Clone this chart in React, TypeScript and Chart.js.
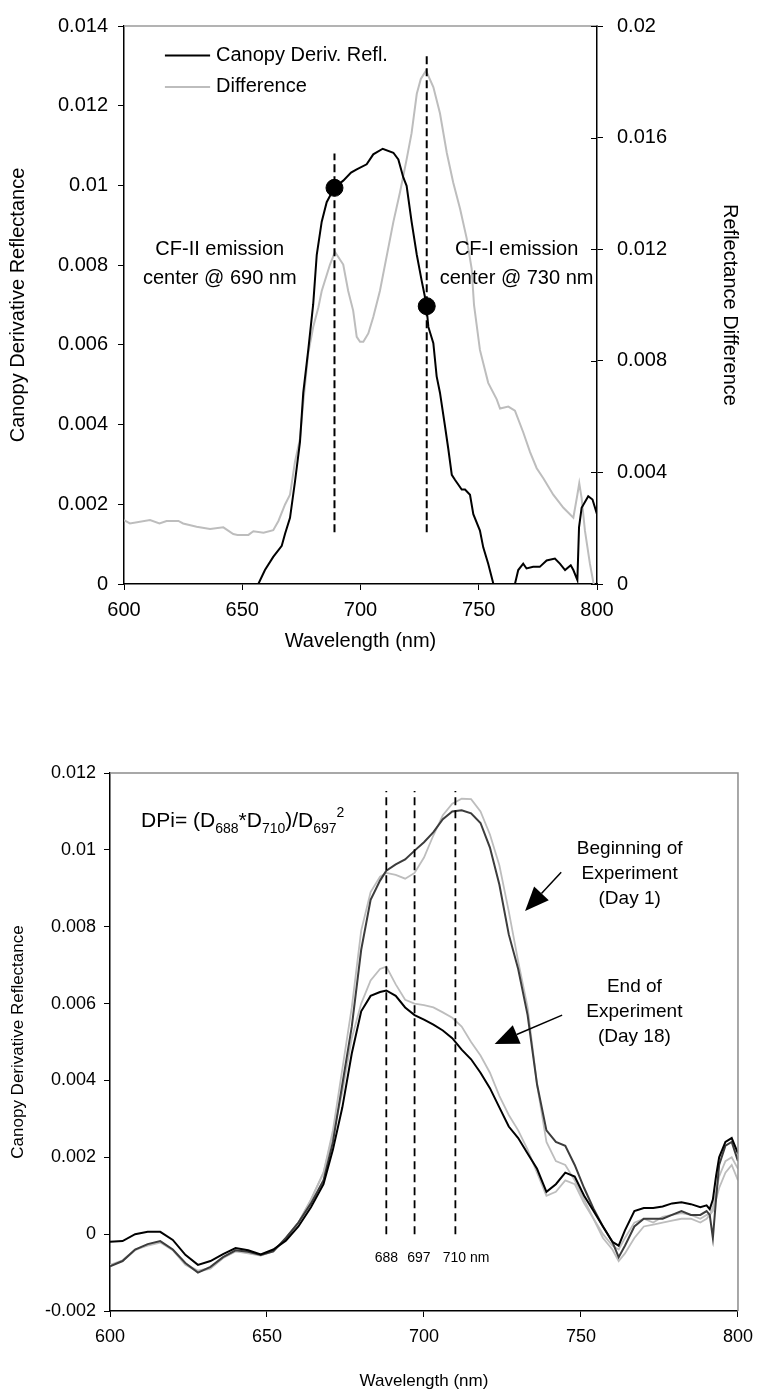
import React, { useEffect, useRef } from "react";
import { Chart, registerables } from "chart.js";

Chart.register(...registerables);

const FONT = "'Liberation Sans', Arial, Helvetica, sans-serif";

// ---------------- Top chart data ----------------
const topXTicks = [600, 650, 700, 750, 800];
const topLeftTicks = [0, 0.002, 0.004, 0.006, 0.008, 0.01, 0.012, 0.014];
const topRightTicks = [0, 0.004, 0.008, 0.012, 0.016, 0.02];

const reflWavelengths = [600, 610, 620, 630, 640, 650, 654, 656.8, 659.6, 663.1, 666.7, 668.1, 670.2, 672.3, 674.4, 675.8, 677.9, 680, 681.5, 683.6, 685.7, 688.9, 692.7, 696, 698.4, 702.6, 705.4, 709.4, 713.9, 716, 718.1, 719.5, 721.6, 723.8, 725.9, 727.7, 728.7, 730.8, 732.2, 733.6, 735.7, 737.1, 738.6, 740, 742.8, 744.2, 746.3, 747.7, 750.5, 751.9, 754, 756.2, 758, 761, 763, 765.3, 766.7, 768.8, 770.2, 773, 775.8, 778.7, 782.2, 784.3, 786.5, 788.9, 790, 791.7, 792.4, 793.5, 796.3, 798.1, 800];
const reflValues = [-0.0005, -0.0004, -0.0008, -0.001, -0.0006, -0.0005, -0.0003, 0, 0.00035, 0.00068, 0.00096, 0.00126, 0.00166, 0.00257, 0.00356, 0.0048, 0.00587, 0.00702, 0.00826, 0.00909, 0.00958, 0.00994, 0.01012, 0.01032, 0.0104, 0.01053, 0.01078, 0.01092, 0.01082, 0.01065, 0.0102, 0.00999, 0.00909, 0.00826, 0.0076, 0.00707, 0.00645, 0.00604, 0.00521, 0.0048, 0.00397, 0.0034, 0.00274, 0.00261, 0.00237, 0.00237, 0.00224, 0.00175, 0.00134, 0.00092, 0.00051, 0, -0.0003, -0.0006, -0.0004, 0, 0.00035, 0.00051, 0.00039, 0.00043, 0.00043, 0.00059, 0.00064, 0.00051, 0.00035, 0.00047, 0.00035, 0.0001, 0.00142, 0.00191, 0.0022, 0.00212, 0.00175];

const diffWavelengths = [600, 602.5, 611, 615, 618, 623, 625, 630.7, 636.4, 642, 646.2, 648, 652.6, 654.7, 659, 663.1, 665.3, 668.1, 670.2, 672.3, 674.4, 675.8, 677.9, 680, 682.2, 683.6, 687.1, 689.2, 692.7, 694.8, 696.9, 698.4, 699.8, 701.2, 703.3, 705.4, 708.2, 713.9, 716.7, 719.5, 721.6, 723.8, 725.5, 727.7, 730.8, 733.6, 736.5, 739.2, 742.1, 744.9, 747, 748, 750.5, 754, 757.6, 759, 762.5, 765.3, 768.8, 771.7, 774.5, 777.3, 781.5, 785.8, 790, 791.7, 792.5, 793.5, 794.9, 797, 798.4, 800];
const diffValues = [0.00229, 0.00217, 0.00229, 0.00217, 0.00226, 0.00226, 0.00217, 0.00205, 0.00197, 0.00203, 0.00179, 0.00176, 0.00176, 0.00189, 0.00184, 0.00193, 0.00226, 0.00285, 0.0032, 0.00438, 0.0052, 0.0065, 0.00827, 0.00921, 0.00992, 0.0105, 0.01145, 0.0119, 0.01145, 0.0105, 0.0098, 0.00886, 0.00868, 0.00868, 0.00898, 0.00957, 0.0105, 0.01298, 0.01404, 0.01522, 0.01616, 0.01757, 0.0181, 0.0184, 0.01781, 0.01687, 0.01545, 0.01439, 0.01345, 0.01239, 0.0113, 0.01, 0.00839, 0.00721, 0.00662, 0.00629, 0.00636, 0.00621, 0.00544, 0.00473, 0.00415, 0.00379, 0.0032, 0.00273, 0.00238, 0.0032, 0.00361, 0.00308, 0.00191, 0.00073, 0.00008, -0.0005];

const emissionCenters = [689, 728];
const emissionDots = [0.00994, 0.00697];
const emissionGuideTops = [0.0108, 0.0133];
const emissionGuideBottom = 0.0013;

const legendLabels = ["Canopy Deriv. Refl.", "Difference"];
const legendColors = ["#000000", "#bdbdbd"];
const legendLineX = [617.3, 636.4];
const legendTextX = 638.9;
const legendRowY = [0.01326, 0.01247];

const emissionNotes = [
  ["CF-II emission", "center @ 690 nm"],
  ["CF-I emission", "center @ 730 nm"],
];
const emissionNoteX = [640.5, 766];
const emissionNoteY = [0.0084, 0.00766];

// ---------------- Bottom chart data ----------------
const botXTicks = [600, 650, 700, 750, 800];
const botYTicks = [-0.002, 0, 0.002, 0.004, 0.006, 0.008, 0.01, 0.012];

const bandWavelengths = [600, 604, 608, 612, 616, 620, 624, 628, 632, 636, 640, 644, 648, 652, 656, 660, 664, 668, 671, 674, 677, 680, 683, 686, 688, 691, 694, 697, 700, 703, 706, 709, 712, 715, 718, 721, 724, 727, 730, 733, 736, 739, 742, 745, 748, 751, 754, 757, 760, 762, 764, 767, 770, 773, 776, 779, 782, 785, 788, 790, 791, 792, 793, 794, 796, 798, 800];
const day1Dark = [-0.00084, -0.0007, -0.0004, -0.00026, -0.00018, -0.0004, -0.00075, -0.001, -0.00085, -0.0006, -0.00042, -0.00046, -0.00054, -0.00045, -0.0001, 0.0003, 0.0008, 0.0014, 0.0024, 0.0039, 0.0054, 0.0074, 0.0087, 0.0092, 0.00946, 0.00962, 0.00975, 0.00998, 0.0102, 0.01046, 0.0108, 0.011, 0.01103, 0.01095, 0.0107, 0.01006, 0.0091, 0.0078, 0.0069, 0.0057, 0.0039, 0.0027, 0.0024, 0.0023, 0.0018, 0.0012, 0.00066, 0.0002, -0.0002, -0.0006, -0.0003, 0.0002, 0.0004, 0.0004, 0.0004, 0.0005, 0.0006, 0.0005, 0.0005, 0.0006, 0.0005, -0.0001, 0.0009, 0.0018, 0.0023, 0.0024, 0.0019];
const day1Light = [-0.0008, -0.00068, -0.0004, -0.0003, -0.00022, -0.00042, -0.0008, -0.00098, -0.0009, -0.00062, -0.00045, -0.0005, -0.00056, -0.00045, -0.00012, 0.0003, 0.0009, 0.0016, 0.0027, 0.0043, 0.0059, 0.0079, 0.0089, 0.0093, 0.0094, 0.00935, 0.00925, 0.0094, 0.0098, 0.01038, 0.0109, 0.0112, 0.01133, 0.01132, 0.011, 0.0104, 0.0096, 0.0084, 0.0071, 0.0059, 0.0039, 0.0024, 0.0019, 0.0018, 0.0014, 0.0009, 0.0004, -0.0001, -0.0004, -0.0007, -0.0005, -0.0001, 0.0002, 0.00025, 0.0003, 0.00035, 0.0004, 0.0004, 0.0003, 0.0004, 0.0005, 0.0006, 0.0009, 0.0012, 0.0016, 0.0018, 0.0014];
const day18Dark = [-0.0002, -0.00018, 0, 0.00006, 0.00006, -0.00015, -0.00054, -0.0008, -0.0007, -0.00052, -0.00036, -0.00042, -0.00053, -0.0004, -0.00017, 0.0002, 0.0007, 0.0013, 0.0022, 0.0033, 0.0047, 0.0058, 0.0062, 0.0063, 0.00634, 0.0062, 0.0059, 0.0057, 0.00558, 0.00545, 0.0053, 0.0051, 0.0048, 0.00455, 0.0042, 0.0038, 0.0033, 0.0028, 0.0025, 0.0021, 0.0017, 0.0011, 0.0013, 0.0016, 0.0015, 0.001, 0.0006, 0.0002, -0.0002, -0.0003, 0.0001, 0.0006, 0.00068, 0.00068, 0.00072, 0.0008, 0.00083, 0.00078, 0.0007, 0.00075, 0.00065, 0.0009, 0.0015, 0.002, 0.0024, 0.0025, 0.0021];
const day18Light = [-0.00082, -0.0007, -0.00042, -0.00028, -0.0002, -0.00041, -0.00078, -0.00095, -0.00088, -0.00062, -0.00044, -0.00048, -0.00055, -0.00044, -0.0001, 0.0003, 0.0009, 0.0016, 0.0026, 0.0037, 0.0051, 0.006, 0.0066, 0.0069, 0.00696, 0.0065, 0.0061, 0.006, 0.00596, 0.0059, 0.00577, 0.00563, 0.0054, 0.005, 0.00465, 0.0042, 0.0036, 0.0031, 0.0027, 0.0022, 0.0016, 0.001, 0.0011, 0.0014, 0.0013, 0.0008, 0.0004, 0, -0.0003, -0.0004, -0.0001, 0.0003, 0.0004, 0.0003, 0.00045, 0.0005, 0.00055, 0.0005, 0.0004, 0.0005, 0.0005, 0.0007, 0.0011, 0.0015, 0.0019, 0.002, 0.0017];

const dpiBands = [688, 697, 710];
const dpiGuideTop = 0.01153;
const dpiGuideBottom = 0;
const bandLabels = ["688", "697", "710 nm"];
const bandLabelX = [688, 698.4, 713.4];
const bandLabelY = -0.00063;

const formulaX = 609.9;
const formulaY = 0.0106;

const stageNotes = [
  ["Beginning of", "Experiment", "(Day 1)"],
  ["End of", "Experiment", "(Day 18)"],
];
const stageNoteX = [765.5, 767];
const stageNoteY = [0.01002, 0.00644];
const arrowFrom = [[743.7, 0.00942], [744, 0.0057]];
const arrowTo = [[732.2, 0.00841], [722.5, 0.00495]];

// ---------------- helpers ----------------
const pts = (xs: number[], ys: number[]) =>
  xs.slice(0, Math.min(xs.length, ys.length)).map((x, i) => ({ x, y: ys[i] }));

const fmt = (v: any) => String(parseFloat(Number(v).toFixed(4)));

const setTicks = (arr: number[]) => (axis: any) => {
  axis.ticks = arr.map((v) => ({ value: v }));
};

function axisBase(size: number, pad: number) {
  return {
    grid: { drawOnChartArea: false, drawTicks: true, tickLength: 6, tickColor: "#000", tickWidth: 1 },
    border: { display: true, color: "#000", width: 1.5 },
    ticks: {
      font: { family: FONT, size },
      color: "#000",
      padding: pad,
      autoSkip: false,
      maxRotation: 0,
      minRotation: 0,
      callback: (v: any) => fmt(v),
    },
  };
}

function drawArrow(ctx: CanvasRenderingContext2D, x0: number, y0: number, x1: number, y1: number) {
  const ang = Math.atan2(y1 - y0, x1 - x0);
  const L = 24;
  const W = 10;
  const bx = x1 - L * Math.cos(ang);
  const by = y1 - L * Math.sin(ang);
  ctx.beginPath();
  ctx.moveTo(x0, y0);
  ctx.lineTo(bx, by);
  ctx.stroke();
  ctx.beginPath();
  ctx.moveTo(x1, y1);
  ctx.lineTo(bx + W * Math.sin(ang), by - W * Math.cos(ang));
  ctx.lineTo(bx - W * Math.sin(ang), by + W * Math.cos(ang));
  ctx.closePath();
  ctx.fill();
}

const topDecor = {
  id: "topDecor",
  afterDatasetsDraw(chart: any) {
    const { ctx, chartArea: a, scales } = chart;
    const x = scales.x;
    const yL = scales.yL;
    const yR = scales.yR;
    ctx.save();
    ctx.strokeStyle = "#9a9a9a";
    ctx.lineWidth = 1.5;
    ctx.beginPath();
    ctx.moveTo(a.left, a.top);
    ctx.lineTo(a.right, a.top);
    ctx.stroke();
    ctx.strokeStyle = "#000";
    ctx.lineWidth = 1;
    topRightTicks.forEach((v) => {
      const py = Math.round(yR.getPixelForValue(v)) + 0.5;
      ctx.beginPath();
      ctx.moveTo(a.right - 6, py);
      ctx.lineTo(a.right, py);
      ctx.stroke();
    });
    ctx.font = `20px ${FONT}`;
    ctx.textAlign = "left";
    ctx.textBaseline = "middle";
    legendLabels.forEach((lab, i) => {
      const py = yL.getPixelForValue(legendRowY[i]);
      ctx.strokeStyle = legendColors[i];
      ctx.lineWidth = 2;
      ctx.beginPath();
      ctx.moveTo(x.getPixelForValue(legendLineX[0]), py);
      ctx.lineTo(x.getPixelForValue(legendLineX[1]), py);
      ctx.stroke();
      ctx.fillStyle = "#000";
      ctx.fillText(lab, x.getPixelForValue(legendTextX), py);
    });
    ctx.textAlign = "center";
    emissionNotes.forEach((lines, i) => {
      lines.forEach((t, j) => {
        ctx.fillText(t, x.getPixelForValue(emissionNoteX[i]), yL.getPixelForValue(emissionNoteY[j]));
      });
    });
    ctx.restore();
  },
};

const bottomDecor = {
  id: "bottomDecor",
  afterDatasetsDraw(chart: any) {
    const { ctx, chartArea: a, scales } = chart;
    const x = scales.x;
    const y = scales.y;
    ctx.save();
    ctx.strokeStyle = "#8c8c8c";
    ctx.lineWidth = 1.5;
    ctx.beginPath();
    ctx.moveTo(a.left, a.top);
    ctx.lineTo(a.right, a.top);
    ctx.lineTo(a.right, a.bottom);
    ctx.stroke();

    ctx.fillStyle = "#000";
    const parts: [string, string][] = [
      ["DPi= (D", "n"],
      ["688", "sub"],
      ["*D", "n"],
      ["710", "sub"],
      [")/D", "n"],
      ["697", "sub"],
      ["2", "sup"],
    ];
    let fx = x.getPixelForValue(formulaX);
    const fy = y.getPixelForValue(formulaY);
    ctx.textAlign = "left";
    ctx.textBaseline = "alphabetic";
    parts.forEach(([t, k]) => {
      ctx.font = k === "n" ? `21px ${FONT}` : `14px ${FONT}`;
      const dy = k === "sub" ? 6 : k === "sup" ? -10 : 0;
      ctx.fillText(t, fx, fy + dy);
      fx += ctx.measureText(t).width;
    });

    ctx.font = `14px ${FONT}`;
    ctx.textAlign = "center";
    ctx.textBaseline = "middle";
    bandLabels.forEach((t, i) => {
      ctx.fillText(t, x.getPixelForValue(bandLabelX[i]), y.getPixelForValue(bandLabelY));
    });

    ctx.font = `19px ${FONT}`;
    stageNotes.forEach((lines, i) => {
      const cx = x.getPixelForValue(stageNoteX[i]);
      const cy = y.getPixelForValue(stageNoteY[i]);
      lines.forEach((t, j) => ctx.fillText(t, cx, cy + j * 25));
    });

    ctx.strokeStyle = "#000";
    ctx.lineWidth = 1.5;
    arrowFrom.forEach((f, i) => {
      drawArrow(
        ctx,
        x.getPixelForValue(f[0]),
        y.getPixelForValue(f[1]),
        x.getPixelForValue(arrowTo[i][0]),
        y.getPixelForValue(arrowTo[i][1])
      );
    });
    ctx.restore();
  },
};

function topConfig(): any {
  const guideSets = emissionCenters.map((c, i) => ({
    label: "guide" + i,
    data: [
      { x: c, y: emissionGuideBottom },
      { x: c, y: emissionGuideTops[i] },
    ],
    yAxisID: "yL",
    borderColor: "#000",
    borderWidth: 2,
    borderDash: [8, 4],
    pointRadius: 0,
    order: 1,
  }));
  return {
    type: "line",
    data: {
      datasets: [
        {
          label: "centers",
          data: pts(emissionCenters, emissionDots),
          yAxisID: "yL",
          showLine: false,
          pointRadius: 8.5,
          pointBackgroundColor: "#000",
          pointBorderColor: "#000",
          order: 0,
        },
        ...guideSets,
        {
          label: legendLabels[0],
          data: pts(reflWavelengths, reflValues),
          yAxisID: "yL",
          borderColor: "#000",
          borderWidth: 2,
          pointRadius: 0,
          order: 2,
        },
        {
          label: legendLabels[1],
          data: pts(diffWavelengths, diffValues),
          yAxisID: "yR",
          borderColor: "#bdbdbd",
          borderWidth: 2,
          pointRadius: 0,
          order: 3,
        },
      ],
    },
    options: {
      responsive: false,
      animation: false,
      events: [],
      layout: { padding: { top: 18, left: 0, right: 0, bottom: 0 } },
      plugins: { legend: { display: false }, tooltip: { enabled: false } },
      scales: {
        x: {
          type: "linear",
          min: 600,
          max: 800,
          ...axisBase(20, 8),
          afterBuildTicks: setTicks(topXTicks),
          afterFit: (s: any) => {
            s.height = 116;
          },
          title: {
            display: true,
            text: "Wavelength (nm)",
            color: "#000",
            font: { family: FONT, size: 20 },
            padding: { top: 0, bottom: 47 },
          },
        },
        yL: {
          type: "linear",
          position: "left",
          min: 0,
          max: 0.014,
          ...axisBase(20, 10),
          afterBuildTicks: setTicks(topLeftTicks),
          afterFit: (s: any) => {
            s.width = 124;
          },
          title: {
            display: true,
            text: "Canopy Derivative Reflectance",
            color: "#000",
            font: { family: FONT, size: 20 },
            padding: { top: 6, bottom: 0 },
          },
        },
        yR: {
          type: "linear",
          position: "right",
          min: 0,
          max: 0.02,
          ...axisBase(20, 14),
          afterBuildTicks: setTicks(topRightTicks),
          afterFit: (s: any) => {
            s.width = 165;
          },
          title: {
            display: true,
            text: "Reflectance Difference",
            color: "#000",
            font: { family: FONT, size: 20 },
            padding: { top: 20, bottom: 0 },
          },
        },
      },
    },
    plugins: [topDecor],
  };
}

function bottomConfig(): any {
  const guideSets = dpiBands.map((b, i) => ({
    label: "band" + i,
    data: [
      { x: b, y: dpiGuideBottom },
      { x: b, y: dpiGuideTop },
    ],
    borderColor: "#000",
    borderWidth: 1.8,
    borderDash: [8, 5],
    pointRadius: 0,
    order: 0,
  }));
  const line = (label: string, vals: number[], color: string, w: number, order: number) => ({
    label,
    data: pts(bandWavelengths, vals),
    borderColor: color,
    borderWidth: w,
    pointRadius: 0,
    order,
  });
  return {
    type: "line",
    data: {
      datasets: [
        ...guideSets,
        line("Day 18", day18Dark, "#000000", 2, 1),
        line("Day 1", day1Dark, "#3c3c3c", 2, 2),
        line("Day 18 (grey)", day18Light, "#bdbdbd", 1.8, 3),
        line("Day 1 (grey)", day1Light, "#bdbdbd", 1.8, 4),
      ],
    },
    options: {
      responsive: false,
      animation: false,
      events: [],
      layout: { padding: { top: 73, left: 0, right: 17, bottom: 0 } },
      plugins: { legend: { display: false }, tooltip: { enabled: false } },
      scales: {
        x: {
          type: "linear",
          min: 600,
          max: 800,
          ...axisBase(18, 9),
          afterBuildTicks: setTicks(botXTicks),
          afterFit: (s: any) => {
            s.height = 83;
          },
          title: {
            display: true,
            text: "Wavelength (nm)",
            color: "#000",
            font: { family: FONT, size: 17 },
            padding: { top: 0, bottom: 2 },
          },
        },
        y: {
          type: "linear",
          position: "left",
          min: -0.002,
          max: 0.012,
          ...axisBase(18, 8),
          afterBuildTicks: setTicks(botYTicks),
          afterFit: (s: any) => {
            s.width = 110;
          },
          title: {
            display: true,
            text: "Canopy Derivative Reflectance",
            color: "#000",
            font: { family: FONT, size: 17 },
            padding: { top: 8, bottom: 0 },
          },
        },
      },
    },
    plugins: [bottomDecor],
  };
}

export default function App() {
  const topRef = useRef<HTMLCanvasElement>(null);
  const botRef = useRef<HTMLCanvasElement>(null);
  useEffect(() => {
    const c1 = new Chart(topRef.current as HTMLCanvasElement, topConfig());
    const c2 = new Chart(botRef.current as HTMLCanvasElement, bottomConfig());
    return () => {
      c1.destroy();
      c2.destroy();
    };
  }, []);
  return (
    <div style={{ position: "absolute", left: 0, top: 0, width: 762, height: 1394, background: "#fff" }}>
      <canvas
        ref={topRef}
        width={762}
        height={700}
        style={{ position: "absolute", left: 0, top: 0, width: 762, height: 700 }}
      />
      <canvas
        ref={botRef}
        width={762}
        height={694}
        style={{ position: "absolute", left: 0, top: 700, width: 762, height: 694 }}
      />
    </div>
  );
}
